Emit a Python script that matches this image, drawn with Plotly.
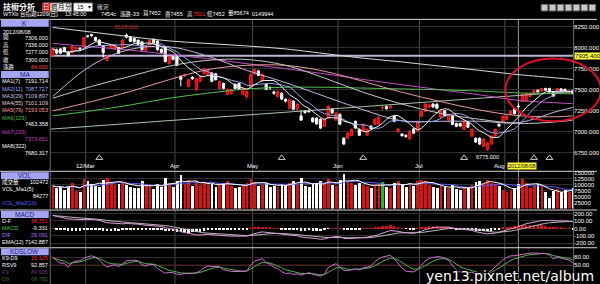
import numpy as np
import pandas as pd
import plotly.graph_objects as go

W, H = 600, 284

# ---------------- data ----------------
opens = [7905, 7976, 7985, 8000, 7950, 7940, 7985, 7995, 8012, 8140,
         8158, 8120, 8090, 8020, 7850, 7990, 7980, 8000, 8012, 8150,
         8130, 8110, 8090, 8070, 7965, 8030, 8100, 8080, 7980, 8010,
         7810, 7890, 7890, 7660, 7665, 7540, 7650, 7500, 7600, 7690,
         7680, 7700, 7690, 7515, 7575, 7445, 7455, 7565, 7575, 7445,
         7420, 7540, 7690, 7725, 7600, 7565, 7530, 7475, 7420, 7460,
         7385, 7280, 7365, 7270, 7190, 7250, 7250, 7165, 7165, 7150,
         7065, 7165, 7270, 7140, 7210, 6925, 6925, 6960, 7125, 7030,
         7010, 6960, 7068, 7090, 7090, 7290, 7300, 7285, 7185, 7000,
         6975, 6960, 6915, 7035, 7010, 7185, 7245, 7295, 7330, 7330,
         7175, 7250, 7140, 7185, 7100, 7100, 7030, 7115, 6950, 6925,
         6925, 6830, 6790, 6855, 6950, 7090, 7125, 7150, 7210, 7280,
         7306, 7363, 7365, 7420, 7455, 7495, 7485, 7515, 7515, 7470,
         7480, 7510, 7505, 7460, 7490]
highs = [8005, 7990, 7995, 8010, 7960, 8030, 8010, 8000, 8125, 8150,
         8162, 8130, 8100, 8030, 7910, 8040, 8035, 8010, 8100, 8168,
         8140, 8120, 8095, 8080, 8020, 8100, 8110, 8090, 7990, 8015,
         7900, 7900, 7895, 7670, 7690, 7630, 7660, 7640, 7670, 7760,
         7745, 7710, 7700, 7610, 7585, 7515, 7510, 7575, 7580, 7525,
         7490, 7700, 7750, 7735, 7690, 7575, 7540, 7490, 7490, 7470,
         7400, 7395, 7375, 7340, 7260, 7260, 7270, 7175, 7170, 7160,
         7160, 7320, 7280, 7235, 7215, 6935, 6995, 7040, 7135, 7040,
         7100, 7040, 7080, 7160, 7185, 7315, 7315, 7320, 7195, 7045,
         6985, 6970, 7020, 7045, 7135, 7255, 7340, 7335, 7345, 7340,
         7265, 7260, 7220, 7195, 7110, 7110, 7135, 7125, 7040, 6935,
         6935, 6925, 6880, 6960, 7040, 7100, 7195, 7200, 7255, 7290,
         7336, 7455, 7465, 7465, 7500, 7505, 7525, 7525, 7525, 7480,
         7525, 7520, 7515, 7500, 7501]
lows = [7890, 7920, 7925, 7945, 7895, 7930, 7975, 7970, 8005, 8120,
        8130, 8075, 8020, 7880, 7840, 7980, 7970, 7925, 8005, 8115,
        8065, 8060, 8030, 7965, 7955, 8020, 8050, 7965, 7930, 7825,
        7800, 7850, 7780, 7540, 7650, 7530, 7620, 7490, 7590, 7680,
        7670, 7590, 7610, 7505, 7505, 7435, 7445, 7505, 7495, 7435,
        7385, 7530, 7680, 7660, 7590, 7495, 7500, 7440, 7410, 7380,
        7350, 7270, 7260, 7260, 7130, 7215, 7230, 7110, 7085, 7035,
        7055, 7150, 7215, 7130, 7080, 6845, 6915, 6950, 7035, 6950,
        7000, 6950, 7030, 7080, 7080, 7260, 7265, 7275, 7115, 6990,
        6945, 6930, 6905, 6975, 7000, 7175, 7235, 7285, 7285, 7270,
        7165, 7185, 7130, 7080, 7055, 7060, 7020, 7045, 6940, 6870,
        6845, 6820, 6775, 6845, 6940, 7055, 7115, 7140, 7200, 7210,
        7277, 7355, 7355, 7410, 7445, 7465, 7475, 7485, 7465, 7415,
        7470, 7480, 7470, 7450, 7452]
closes = [7988, 7935, 7935, 7955, 7905, 8020, 8000, 7985, 8118, 8132,
          8140, 8085, 8030, 7940, 7900, 8030, 8030, 7935, 8090, 8125,
          8075, 8070, 8040, 7975, 8012, 8090, 8060, 7975, 7945, 7835,
          7890, 7860, 7790, 7625, 7680, 7620, 7630, 7630, 7660, 7750,
          7735, 7600, 7620, 7600, 7515, 7505, 7505, 7515, 7505, 7515,
          7480, 7680, 7740, 7670, 7685, 7505, 7525, 7460, 7480, 7390,
          7365, 7385, 7270, 7330, 7140, 7230, 7240, 7120, 7095, 7045,
          7150, 7305, 7225, 7225, 7090, 6855, 6985, 7030, 7045, 6960,
          7090, 7030, 7040, 7150, 7175, 7290, 7275, 7305, 7125, 7035,
          6955, 6945, 7010, 6985, 7125, 7245, 7330, 7320, 7295, 7280,
          7255, 7195, 7210, 7090, 7065, 7070, 7125, 7055, 7030, 6880,
          6855, 6915, 6865, 6950, 7030, 7070, 7185, 7185, 7245, 7216,
          7300, 7445, 7455, 7455, 7490, 7475, 7515, 7495, 7475, 7425,
          7515, 7490, 7480, 7487, 7454]
volumes = [95000, 88000, 92000, 80000, 97000, 110000, 75000, 70000, 125000, 118000,
           102000, 96000, 90000, 120000, 130000, 112000, 98000, 105000, 110000, 100000,
           92000, 85000, 88000, 115000, 95000, 98000, 82000, 105000, 90000, 128000,
           110000, 92000, 115000, 140000, 105000, 120000, 95000, 118000, 100000, 112000,
           98000, 105000, 92000, 100000, 110000, 115000, 95000, 88000, 90000, 102000,
           108000, 125000, 112000, 95000, 100000, 110000, 90000, 95000, 92000, 105000,
           98000, 110000, 118000, 100000, 130000, 96000, 90000, 102000, 108000, 115000,
           105000, 125000, 98000, 95000, 120000, 145000, 118000, 110000, 100000, 108000,
           100000, 96000, 85000, 98000, 105000, 112000, 92000, 88000, 108000, 115000,
           98000, 92000, 110000, 95000, 118000, 122000, 115000, 98000, 92000, 88000,
           95000, 90000, 86000, 100000, 82000, 78000, 92000, 85000, 98000, 112000,
           118000, 105000, 120000, 110000, 102000, 96000, 80000, 72000, 78000, 88000,
           102472, 125000, 108000, 88000, 95000, 104000, 100000, 70000, 45000, 75000,
           82000, 70000, 78000, 72000, 85674]

month_idx = [8.5, 31.5, 51.5, 73.5, 94.5, 116.5]
month_labels = ["12/Mar", "Apr", "May", "Jun", "Jul", "Aug"]
event_idx = [12, 59, 80, 106, 124, 128]
cursor_idx = 120
cursor_label = "2012/08/08"

ma_idx = [0, 10, 20, 30, 40, 50, 60, 70, 80, 90, 100, 110, 120, 130, 134]
ma29 = [7420, 7790, 7980, 8010, 7898, 7730, 7585, 7423, 7263, 7131, 7126, 7127, 7110, 7244, 7290]
ma55 = [7400, 7540, 7660, 7780, 7850, 7860, 7790, 7640, 7470, 7330, 7220, 7150, 7101, 7120, 7140]
ma76 = [7250, 7360, 7480, 7620, 7740, 7790, 7790, 7720, 7600, 7470, 7360, 7260, 7193, 7180, 7190]
ma123 = [7190, 7250, 7320, 7400, 7460, 7510, 7530, 7530, 7520, 7510, 7500, 7485, 7463, 7455, 7452]
ma233 = [8050, 8010, 7970, 7920, 7870, 7810, 7750, 7690, 7622, 7560, 7500, 7440, 7374, 7345, 7335]
ma322 = [8240, 8185, 8130, 8080, 8050, 8020, 7985, 7930, 7875, 7830, 7780, 7730, 7680, 7640, 7622]

support_idx = [-0.5, 134.1]
support_val = [7033, 7479]
hline_val = 7905.4
max_label = ("8168.000", 19, 8168)
min_label = ("6775.000", 112, 6775)

price_ticks = [6750, 7000, 7250, 7500, 7750, 8000, 8250]
vol_ticks = [25000, 50000, 75000, 100000, 125000, 150000]
macd_ticks = [-200, -100, 0, 100, 200]
kd_ticks = [50, 80]

# indicator seeds (state before the first visible day)
EMA12_SEED, EMA26_SEED, SIG_SEED = 7930.0, 7745.0, 170.0
K_SEED, D_SEED = 80.0, 75.0

# ---------------- derived series ----------------
N = len(closes)
xs = list(range(N))
c = pd.Series(closes, dtype=float)
ma7 = c.rolling(7, min_periods=1).mean()
ma11 = c.rolling(11, min_periods=1).mean()
v = pd.Series(volumes, dtype=float)
vma5 = v.rolling(5, min_periods=1).mean()
vma10 = v.rolling(10, min_periods=1).mean()

e12, e26, sg = EMA12_SEED, EMA26_SEED, SIG_SEED
dif, sig, osc = [], [], []
for cl in closes:
    e12 += 2 / 13 * (cl - e12)
    e26 += 2 / 27 * (cl - e26)
    d = e12 - e26
    sg += 0.2 * (d - sg)
    dif.append(d); sig.append(sg); osc.append(d - sg)

hh = pd.Series(highs, dtype=float).rolling(9, min_periods=1).max()
ll = pd.Series(lows, dtype=float).rolling(9, min_periods=1).min()
rsv = ((c - ll) / (hh - ll) * 100).fillna(50)
K, D = K_SEED, D_SEED
kk, dd = [], []
for r in rsv:
    K = K * 2 / 3 + r / 3
    D = D * 2 / 3 + K / 3
    kk.append(K); dd.append(D)

vcol = ["#e01010" if cl > op else ("#ffffff" if cl < op else "#20c020")
        for op, cl in zip(opens, closes)]
ocol = ["#e01010" if o >= 0 else "#ffffff" for o in osc]

# ---------------- figure ----------------
LAT = "Liberation Sans, Arial, sans-serif"
CJK = "Liberation Sans, Noto Sans CJK TC, sans-serif"
fig = go.Figure()

def line(x, y, color, yaxis="y", width=1, shape="linear"):
    fig.add_trace(go.Scatter(x=x, y=y, mode="lines", yaxis=yaxis,
                             line=dict(color=color, width=width, shape=shape),
                             hoverinfo="skip", showlegend=False))

# main panel lines
line(support_idx, support_val, "#a9c2a9")
line(ma_idx, ma322, "#d8d8d8", shape="spline")
line(ma_idx, ma233, "#c050c0", shape="spline")
line(ma_idx, ma123, "#50c050", shape="spline")
line(ma_idx, ma76, "#e89a9a", shape="spline")
line(ma_idx, ma55, "#c8c8c8", shape="spline")
line(ma_idx, ma29, "#c8b8e0", shape="spline")
line(xs, ma11, "#8fa8e8")
line(xs, ma7, "#f0f0f0")

fig.add_trace(go.Candlestick(
    x=xs, open=opens, high=highs, low=lows, close=closes,
    increasing=dict(fillcolor="#e00000", line=dict(color="#ff2020", width=1)),
    decreasing=dict(fillcolor="#ffffff", line=dict(color="#ffffff", width=1)),
    whiskerwidth=0, hoverinfo="skip", showlegend=False))

fig.add_trace(go.Scatter(x=event_idx, y=[6691] * len(event_idx), mode="markers",
                         marker=dict(symbol="triangle-up-open", size=6,
                                     color="#cfcfcf", line=dict(width=1)),
                         hoverinfo="skip", showlegend=False))

# volume panel
fig.add_trace(go.Bar(x=xs, y=volumes, yaxis="y2", marker=dict(color=vcol, line=dict(width=0)),
                     width=0.72, hoverinfo="skip", showlegend=False))
line(xs, vma10, "#5a5aff", yaxis="y2")
line(xs, vma5, "#ffffff", yaxis="y2")

# MACD panel
fig.add_trace(go.Bar(x=xs, y=osc, yaxis="y3", marker=dict(color=ocol, line=dict(width=0)),
                     width=0.5, hoverinfo="skip", showlegend=False))
line(xs, sig, "#b8b8b8", yaxis="y3")
line(xs, dif, "#e0a0e0", yaxis="y3")

# KD panel
line(xs, dd, "#50b050", yaxis="y4")
line(xs, kk, "#d070d0", yaxis="y4")

def py(y):
    return 1 - y / H

XD = [51 / W, 576 / W]
axcommon = dict(side="right", anchor="x", ticks="", showline=False, zeroline=False,
                gridcolor="#303030", gridwidth=1, fixedrange=True,
                tickfont=dict(color="#ffffff", size=6, family=LAT))

fig.update_layout(
    width=W, height=H, margin=dict(l=0, r=0, t=0, b=0),
    paper_bgcolor="#000000", plot_bgcolor="#000000",
    showlegend=False, bargap=0, boxgap=0.2,
    xaxis=dict(domain=XD, range=[-0.513, 134.1], visible=False, fixedrange=True,
               rangeslider=dict(visible=False), anchor="y4"),
    yaxis=dict(domain=[py(170), py(18)], range=[6538, 8330], tickvals=price_ticks,
               ticktext=[f"{t:.3f}" for t in price_ticks], **axcommon),
    yaxis2=dict(domain=[py(208), py(171)], range=[0, 154000], tickvals=vol_ticks,
                ticktext=[str(t) for t in vol_ticks], **axcommon),
    yaxis3=dict(domain=[py(246), py(210)], range=[-240, 240], tickvals=macd_ticks,
                ticktext=[f"{t:.2f}" for t in macd_ticks], **axcommon),
    yaxis4=dict(domain=[0, py(248)], range=[-21.25, 113.75], tickvals=kd_ticks,
                ticktext=[f"{t:.2f}" for t in kd_ticks], **axcommon),
)

shapes = []
def hl(y, x0=0, x1=W, color="#d8d8d8", width=1):
    shapes.append(dict(type="line", xref="paper", yref="paper", x0=x0 / W, x1=x1 / W,
                       y0=py(y), y1=py(y), line=dict(color=color, width=width)))

# month grid + cursor
for mi in month_idx:
    shapes.append(dict(type="line", xref="x", yref="paper", x0=mi, x1=mi, y0=0, y1=py(18),
                       line=dict(color="#4c4c4c", width=1), layer="below"))
shapes.append(dict(type="line", xref="x", yref="paper", x0=cursor_idx, x1=cursor_idx,
                   y0=0, y1=py(18), line=dict(color="#9a9a9a", width=1), layer="below"))
# user lines
shapes.append(dict(type="line", xref="paper", yref="y", x0=XD[0], x1=XD[1],
                   y0=hline_val, y1=hline_val, line=dict(color="#bdb6d4", width=2), layer="below"))
shapes.append(dict(type="line", xref="paper", yref="y3", x0=XD[0], x1=XD[1],
                   y0=0, y1=0, line=dict(color="#c01818", width=1), layer="below"))
shapes.append(dict(type="line", xref="paper", yref="y4", x0=XD[0], x1=XD[1],
                   y0=50, y1=50, line=dict(color="#901818", width=1), layer="below"))
# separators
hl(17.5); hl(170.5); hl(209.5); hl(247.5)
for xv in (50.5, 576.5):
    shapes.append(dict(type="line", xref="paper", yref="paper", x0=xv / W, x1=xv / W,
                       y0=0, y1=py(17.5), line=dict(color="#707070", width=1)))
# legend header boxes
for y0, y1 in [(18, 25), (69.5, 76.5), (171.5, 178.5), (210.5, 217.5), (248, 255)]:
    shapes.append(dict(type="rect", xref="paper", yref="paper", x0=1 / W, x1=49 / W,
                       y0=py(y1), y1=py(y0), fillcolor="#a4a4f2", line=dict(width=0)))
# header widgets
shapes.append(dict(type="rect", xref="paper", yref="paper", x0=43 / W, x1=72 / W,
                   y0=py(9.5), y1=py(1), fillcolor="#f0f0f0", line=dict(color="#808080", width=1)))
shapes.append(dict(type="rect", xref="paper", yref="paper", x0=43 / W, x1=50.5 / W,
                   y0=py(9.5), y1=py(1), fillcolor="#d01010", line=dict(width=0)))
shapes.append(dict(type="rect", xref="paper", yref="paper", x0=74 / W, x1=93 / W,
                   y0=py(9.5), y1=py(1), fillcolor="#ffffff", line=dict(color="#808080", width=1)))
for k in range(7):
    x0 = 544 + k * 8
    shapes.append(dict(type="rect", xref="paper", yref="paper", x0=x0 / W, x1=(x0 + 6.5) / W,
                       y0=py(9), y1=py(2.5), fillcolor="#c8c8c8", line=dict(color="#707070", width=1)))
# red ellipse
shapes.append(dict(type="circle", xref="paper", yref="paper", x0=508 / W, x1=604 / W,
                   y0=py(120), y1=py(57), line=dict(color="#e0102a", width=2), layer="above"))
fig.update_layout(shapes=shapes)

ann = []
def T(x, y, s, color="#ffffff", size=5.5, anchor="left", family=LAT, bg=None,
      xref="paper", yref="paper", yshift=0, xshift=0):
    d = dict(x=x / W if xref == "paper" else x, y=py(y) if yref == "paper" else y,
             xref=xref, yref=yref, text=s, showarrow=False, xanchor=anchor, yanchor="middle",
             font=dict(color=color, size=size, family=family), borderpad=0,
             yshift=yshift, xshift=xshift)
    if bg:
        d["bgcolor"] = bg
    ann.append(d)

# top header
T(2, 5, "<b>技術分析</b>", size=8, family=CJK)
T(46.7, 5.3, "日", size=6.5, anchor="center", family=CJK)
for xx, s in [(54.5, "週"), (61.5, "月"), (68.5, "分")]:
    T(xx, 5.3, s, color="#000000", size=6.5, anchor="center", family=CJK)
T(76, 5.3, "15", color="#000000", size=6)
T(90, 5.3, "▾", color="#000000", size=6, anchor="center")
T(96, 5.3, "確定", color="#d0d0d0", size=6, family=CJK)
row2 = [(2, "WTXb", "#ffffff"), (19, "台指期1209(日)", "#ffffff"), (64, "13:45:00", "#ffffff"),
        (100, "7454c", "#ffffff"), (120, "漲跌-33", "#ffffff"), (143, "買7452", "#ffffff"),
        (165, "賣7455", "#ffffff"), (187, "高", "#ffffff"), (193, "7501", "#ff3030"),
        (207, "低7452", "#ffffff"), (228, "量85674", "#ffffff"), (252, "0149944", "#ffffff")]
for xx, s, col in row2:
    T(xx, 12, s, color=col, size=5.5, family=CJK)

# legend column
HC = "#1a1a7a"
T(25, 21.5, "K", color=HC, size=6.5, anchor="center")
T(2, 30, cursor_label)
for yy, lab, val, vc in [(36, "開", "7306.000", "#ffffff"), (43, "高", "7336.000", "#ffffff"),
                         (50, "低", "7277.000", "#ffffff"), (58, "收", "7300.000", "#ffffff"),
                         (65, "漲跌", "84.000", "#ff4040")]:
    T(2, yy, lab, family=CJK)
    T(49, yy, val, color=vc, anchor="right")
T(25, 73, "MA", color=HC, size=6.5, anchor="center")
for yy, lab, val, col in [(80, "MA1(7)", "7191.714", "#ffffff"), (88, "MA2(11)", "7087.727", "#9fb0ff"),
                          (95, "MA3(29)", "7109.897", "#d0c0e8"), (102, "MA4(55)", "7101.109", "#e8d0d0"),
                          (109, "MA5(76)", "7193.053", "#ff9a9a")]:
    T(1, yy, lab, color=col)
    T(49, yy, val, color=col, anchor="right")
T(1, 117, "MA6(123)", color="#40c040")
T(49, 123, "7463.358", anchor="right")
T(1, 131, "MA7(233)", color="#c040c0")
T(49, 138, "7373.661", color="#c040c0", anchor="right")
T(1, 145, "MA8(322)")
T(49, 152, "7680.317", anchor="right")

T(25, 175, "VOL", color=HC, size=6.5, anchor="center")
T(1, 181.5, "成交量", family=CJK)
T(49, 181.5, "102472", anchor="right")
T(1, 188, "VOL_Ma1(5)")
T(49, 195.5, "84277", anchor="right")
T(1, 202.5, "VOL_Ma2(10)", color="#5a5aff")

T(25, 214, "MACD", color=HC, size=6.5, anchor="center")
T(1, 221, "D-F"); T(49, 221, "38.751", color="#ff3030", anchor="right")
T(1, 228, "MACD", color="#40d040"); T(49, 228, "-9.331", anchor="right")
T(1, 235, "DIF", color="#b070ff"); T(49, 235, "29.091", color="#b070ff", anchor="right")
T(1, 241.5, "EMA(12)"); T(49, 241.5, "7142.887", anchor="right")

T(25, 251.5, "KDSLOW", color=HC, size=6.5, anchor="center")
T(1, 258, "K9-D9"); T(49, 258, "16.125", color="#ff3030", anchor="right")
T(1, 265, "RSV9"); T(49, 265, "92.857", anchor="right")
T(1, 272, "K9", color="#6a3a8a"); T(49, 272, "84.905", color="#6a3a8a", anchor="right")
T(1, 278.5, "D9", color="#3a6a3a"); T(49, 278.5, "68.780", color="#3a6a3a", anchor="right")

# month labels, extreme labels, cursor label
for mi, lab in zip(month_idx, month_labels):
    T(mi, 165, lab, anchor="center", xref="x", size=6, xshift=(-5 if lab == "Aug" else 0))
T(max_label[1], max_label[2], max_label[0], color="#c83030", anchor="center",
  xref="x", yref="y", yshift=7)
T(min_label[1], min_label[2], min_label[0], anchor="center", xref="x", yref="y", yshift=-6)
T(510, 165, cursor_label, color="#000000", anchor="left", bg="#ffff30")
T(576.5, hline_val, "7905.400", color="#000000", xref="paper", yref="y", bg="#ffff40", size=6)

# watermark
ann.append(dict(x=599 / W, y=py(276), xref="paper", yref="paper", text="yen13.pixnet.net/album",
                showarrow=False, xanchor="right", yanchor="middle",
                font=dict(color="#ffffff", size=14, family="DejaVu Sans, Verdana, sans-serif",
                          shadow="-1px -1px 0 #000, 1px -1px 0 #000, -1px 1px 0 #000, 1px 1px 0 #000")))

fig.update_layout(annotations=ann)
fig.write_html("out.html")
